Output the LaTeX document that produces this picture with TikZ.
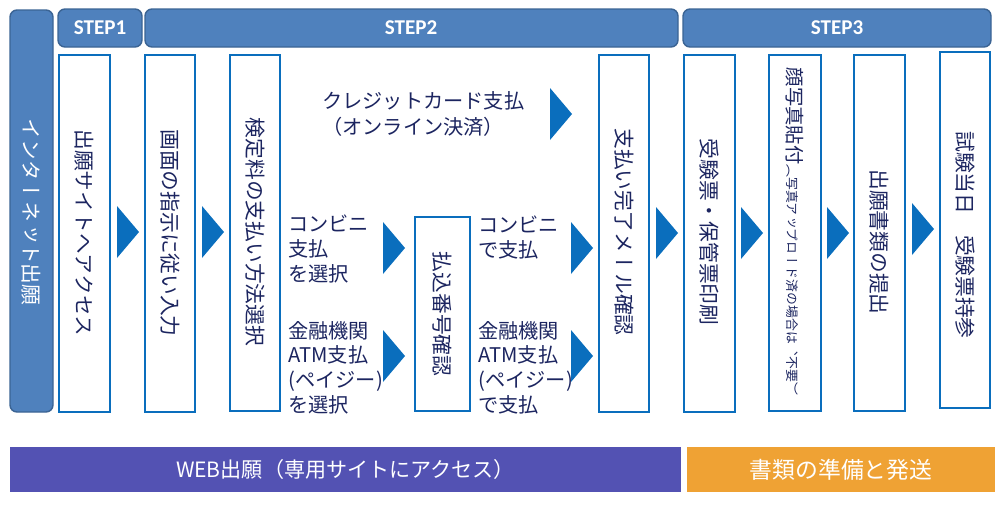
\documentclass[tikz,border=0pt]{standalone}
\usepackage{fontspec}
\usepackage{xcolor}
\usetikzlibrary{positioning}
\setmainfont{Noto Sans CJK JP}
\newfontfamily\jpvert[Vertical=RotatedGlyphs]{Noto Sans CJK JP}
\newfontfamily\stepfont{Carlito}
\definecolor{hdrblue}{HTML}{4F81BD}
\definecolor{hdredge}{HTML}{3B6494}
\definecolor{boxblue}{HTML}{0A6EBD}
\definecolor{inkblue}{HTML}{1C2560}
\definecolor{webpurple}{HTML}{5352B3}
\definecolor{mailorange}{HTML}{EFA234}
% blue step arrow, #1/#2 = top left corner
\newcommand{\goarrow}[2]{\fill[boxblue] (#1,#2) -- ++(22,26) -- ++(-22,26) -- cycle;}

\begin{document}
\begin{tikzpicture}[x=0.02cm,y=-0.02cm,
  hdr/.style={draw=hdredge, line width=0.8pt, fill=hdrblue, rounded corners=4pt},
  stepbox/.style={draw=boxblue, line width=1.1pt, fill=white},
  steplab/.style={text=white, font=\stepfont\bfseries\fontsize{12}{12}\selectfont},
  vlab/.style={rotate=-90, inner sep=0pt, text=inkblue, font=\jpvert\fontsize{11.8}{12}\selectfont},
  hlab/.style={anchor=west, align=left, inner sep=0pt, text=inkblue, font=\fontsize{11.5}{14}\selectfont},
  barlab/.style={text=white, font=\fontsize{12}{12}\selectfont}]
\useasboundingbox (0,0) rectangle (1000,504);
% headers
\draw[hdr] (10,10) rectangle (53,412);
\node[vlab, text=white] (net) at (31.5,212) {インターネット出願};
\draw[hdr] (58,9) rectangle (142,47);
\node[steplab] (s1) at (100,28) {STEP1};
\draw[hdr] (145,9) rectangle (678,47);
\node[steplab] (s2) at (411,28) {STEP2};
\draw[hdr] (683,9) rectangle (991,47);
\node[steplab] (s3) at (837,28) {STEP3};
% step boxes
\draw[stepbox] (59,55) rectangle (110,412);
\node[vlab] (site) at (84.5,233) {出願サイトへアクセス};
\draw[stepbox] (145,55) rectangle (195,412);
\node[vlab] (input) at (170,233) {画面の指示に従い入力};
\draw[stepbox] (230,55) rectangle (280,411);
\node[vlab] (method) at (255,232) {検定料の支払い方法選択};
\draw[stepbox] (415,217) rectangle (470,411);
\node[vlab] (number) at (442.5,314) {払込番号確認};
\draw[stepbox] (599,55) rectangle (649,412);
\node[vlab] (mail) at (624,232) {支払い完了メール確認};
\draw[stepbox] (684,55) rectangle (735,412);
\node[vlab] (print) at (709.5,232) {受験票・保管票印刷};
\draw[stepbox] (769,55) rectangle (821,411);
\node[vlab] (photo) at (795,231.5) {{\fontsize{11}{12}\selectfont 顔写真貼付}{\fontsize{7.3}{8}\selectfont （写真アップロード済の場合は、不要）}};
\draw[stepbox] (854,55) rectangle (905,411);
\node[vlab] (docs) at (879.5,242) {出願書類の提出};
\draw[stepbox] (940,52) rectangle (990,408);
\node[vlab] (exam) at (965,235) {試験当日　受験票持参};
% payment choices
\node[hlab, font=\fontsize{11.5}{15.3}\selectfont] (credit) at (322,114) {クレジットカード支払\\（オンライン決済）};
\node[hlab] (cvs) at (288,249) {コンビニ\\支払\\を選択};
\node[hlab] (atm) at (288,367.5) {金融機関\\ATM支払\\(ペイジー)\\を選択};
\node[hlab] (cvspay) at (478,237.5) {コンビニ\\で支払};
\node[hlab] (atmpay) at (478,367.5) {金融機関\\ATM支払\\(ペイジー)\\で支払};
% arrows
\goarrow{117}{206}
\goarrow{202}{206}
\goarrow{550}{88}
\goarrow{383}{222}
\goarrow{383}{330}
\goarrow{571}{222}
\goarrow{571}{330}
\goarrow{656}{207}
\goarrow{741}{207}
\goarrow{827}{207}
\goarrow{912}{203}
% bottom bars
\fill[webpurple] (10,447) rectangle (681,492);
\node[barlab] (web) at (345.5,469.5) {WEB出願（専用サイトにアクセス）};
\fill[mailorange] (687,447) rectangle (995,492);
\node[barlab, font=\fontsize{13}{13}\selectfont] (post) at (841,469.5) {書類の準備と発送};
\end{tikzpicture}
\end{document}
